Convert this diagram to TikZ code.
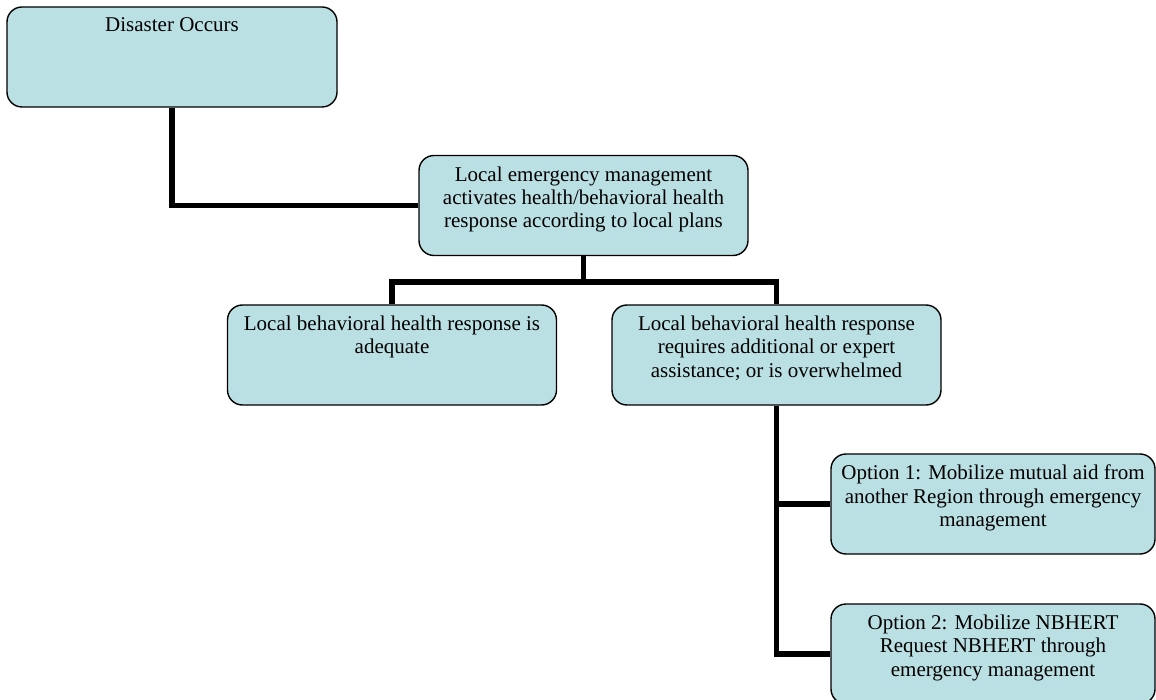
\documentclass[tikz,border=0pt]{standalone}
\usepackage{fontspec}
\setmainfont{Liberation Serif}
\definecolor{boxfill}{RGB}{187,224,227}
\begin{document}
\begin{tikzpicture}[x=1pt,y=-1pt,
  box/.style={draw=black,line width=1.4pt,fill=boxfill,rounded corners=15pt,
    minimum width=329pt,minimum height=100pt,inner sep=0pt},
  txt/.style={anchor=north,inner sep=0pt,align=center,
    font=\fontsize{21}{23.3}\selectfont},
  conn/.style={draw=black,line width=5.6pt,line join=miter}]
\useasboundingbox (0,0) rectangle (1156,700);
% boxes
\node[box,minimum width=330pt] (d) at (172,57) {};
\node[box] (l) at (583.5,205.5) {};
\node[box] (a) at (392,355) {};
\node[box] (r) at (776.5,355) {};
\node[box,minimum width=324pt] (o1) at (993,504) {};
\node[box,minimum width=324pt] (o2) at (993,654) {};
% texts
\node[txt] (td) at ([yshift=-11.5pt]d.north) {Disaster Occurs};
\node[txt] (tl) at ([yshift=-11.5pt]l.north) {Local emergency management\\activates health/behavioral health\\response according to local plans};
\node[txt] (ta) at ([yshift=-11.5pt]a.north) {Local behavioral health response is\\adequate};
\node[txt] (tr) at ([yshift=-11.5pt]r.north) {Local behavioral health response\\requires additional or expert\\assistance; or is overwhelmed};
\node[txt] (to1) at ([yshift=-11.5pt]o1.north) {Option 1: Mobilize mutual aid from\\another Region through emergency\\management};
\node[txt] (to2) at ([yshift=-11.5pt]o2.north) {Option 2: Mobilize NBHERT\\Request NBHERT through\\emergency management};
% connectors
\coordinate (bus) at (583.5,282);
\draw[conn] (d.south) |- (l.west);
\draw[conn] (l.south) -- (bus);
\draw[conn] (a.north) |- (bus) -| (r.north);
\draw[conn] (r.south) |- (o1.west);
\draw[conn] (r.south) |- (o2.west);
\end{tikzpicture}
\end{document}
